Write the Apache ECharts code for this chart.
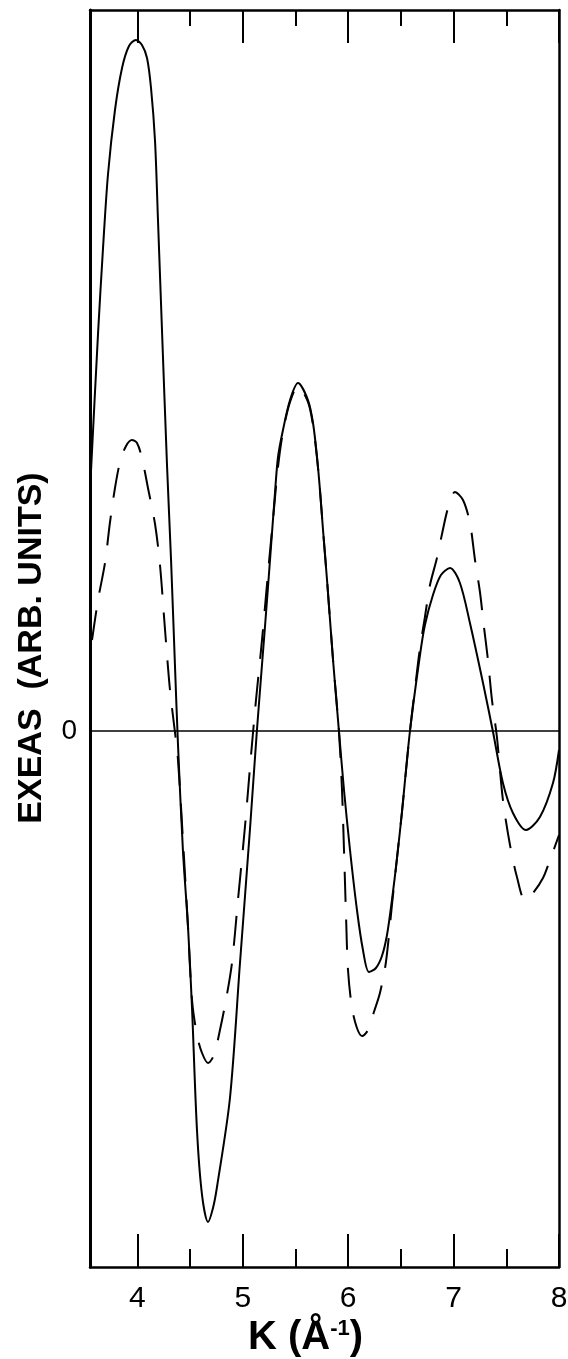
<!DOCTYPE html>
<html><head><meta charset="utf-8">
<script src="https://cdn.jsdelivr.net/npm/echarts@6/dist/echarts.min.js"></script>
<style>html,body{margin:0;padding:0;background:#fff}#c{width:568px;height:1359px}</style>
</head><body><div id="c"></div>
<script>
const kMin = 3.55, kMax = 8.0;
const yMin = -5.36, yMax = 7.21;
const majorTicks = [4, 5, 6, 7, 8];
const minorTicks = [4.5, 5.5, 6.5, 7.5];
const xTickLabels = ['4', '5', '6', '7', '8'];
const yTickValues = [0];
const yTickLabels = ['0'];
const xTitle = 'K (Å';
const xTitleSup = '-1';
const yTitle = 'EXEAS  (ARB. UNITS)';

const solidK = [3.55, 3.626, 3.673, 3.721, 3.787, 3.854, 3.920, 3.986, 4.043, 4.091, 4.129, 4.167, 4.195, 4.233, 4.281, 4.319, 4.356, 4.385, 4.432, 4.480, 4.518, 4.565, 4.613, 4.670, 4.717, 4.755, 4.878, 4.973, 5.068, 5.134, 5.210, 5.258, 5.305, 5.334, 5.381, 5.448, 5.523, 5.618, 5.666, 5.704, 5.732, 5.761, 5.799, 5.856, 5.912, 5.960, 6.017, 6.083, 6.140, 6.197, 6.263, 6.320, 6.368, 6.415, 6.463, 6.510, 6.586, 6.681, 6.728, 6.804, 6.880, 6.966, 7.060, 7.155, 7.279, 7.374, 7.468, 7.563, 7.687, 7.819, 7.943, 8.0];
const solidY = [2.40, 3.97, 4.82, 5.57, 6.21, 6.63, 6.85, 6.91, 6.86, 6.73, 6.43, 5.90, 5.11, 4.01, 2.65, 1.71, 0.66, -0.14, -1.20, -1.96, -2.77, -3.99, -4.64, -4.91, -4.77, -4.56, -3.67, -2.32, -0.98, 0.01, 1.04, 1.71, 2.38, 2.74, 3.01, 3.31, 3.48, 3.31, 3.08, 2.74, 2.41, 2.01, 1.51, 0.71, 0.00, -0.59, -1.19, -1.79, -2.19, -2.41, -2.37, -2.25, -2.04, -1.69, -1.27, -0.81, 0.00, 0.76, 1.06, 1.36, 1.56, 1.63, 1.48, 1.08, 0.48, -0.01, -0.52, -0.82, -0.99, -0.86, -0.52, -0.19];

const dashedK = [3.569, 3.626, 3.692, 3.740, 3.787, 3.835, 3.892, 3.948, 3.996, 4.043, 4.100, 4.167, 4.214, 4.262, 4.309, 4.356, 4.385, 4.432, 4.480, 4.518, 4.565, 4.613, 4.670, 4.726, 4.783, 4.840, 4.897, 4.954, 5.021, 5.078, 5.125, 5.182, 5.239, 5.286, 5.334, 5.381, 5.448, 5.523, 5.618, 5.666, 5.704, 5.732, 5.761, 5.799, 5.856, 5.912, 5.941, 5.960, 5.979, 5.998, 6.036, 6.083, 6.131, 6.188, 6.244, 6.301, 6.358, 6.415, 6.463, 6.510, 6.586, 6.643, 6.681, 6.728, 6.776, 6.842, 6.890, 6.947, 7.013, 7.089, 7.155, 7.203, 7.250, 7.288, 7.326, 7.364, 7.411, 7.468, 7.535, 7.601, 7.677, 7.753, 7.848, 7.914, 8.0];
const dashedY = [0.91, 1.31, 1.68, 2.09, 2.43, 2.69, 2.85, 2.91, 2.88, 2.73, 2.43, 2.07, 1.66, 1.01, 0.41, -0.01, -0.29, -1.09, -1.96, -2.69, -3.04, -3.22, -3.32, -3.24, -2.99, -2.69, -2.32, -1.69, -0.95, -0.24, 0.31, 0.91, 1.58, 2.11, 2.64, 2.99, 3.29, 3.45, 3.29, 3.06, 2.73, 2.41, 2.01, 1.51, 0.71, 0.00, -0.59, -1.19, -1.84, -2.39, -2.77, -2.97, -3.05, -2.99, -2.81, -2.62, -2.31, -1.74, -1.27, -0.81, 0.00, 0.51, 0.83, 1.14, 1.46, 1.73, 1.97, 2.23, 2.39, 2.31, 2.08, 1.71, 1.39, 1.04, 0.71, 0.31, -0.06, -0.69, -1.14, -1.46, -1.69, -1.62, -1.47, -1.29, -1.04];

const zip = (a, b) => a.map((v, i) => [v, b[i]]);
const FONT = '"Liberation Sans", Arial, sans-serif';

function xAxisDef(position, ticks, len, showLine, showLabel) {
  return {
    type: 'value', min: kMin, max: kMax, position: position,
    axisLine: { show: showLine, onZero: false, lineStyle: { color: '#000', width: 2.5 } },
    axisTick: { show: true, inside: true, length: len, customValues: ticks, lineStyle: { color: '#000', width: 2 } },
    axisLabel: showLabel ? {
      show: true, customValues: majorTicks, margin: 17, color: '#000', fontSize: 30, fontFamily: FONT,
      formatter: v => xTickLabels[majorTicks.indexOf(Math.round(v * 100) / 100)] ?? ''
    } : { show: false },
    splitLine: { show: false }
  };
}

const chart = echarts.init(document.getElementById('c'), null, { renderer: 'canvas' });
chart.setOption({
  backgroundColor: '#fff',
  animation: false,
  grid: { left: 90, right: 9, top: 10, bottom: 92, outerBoundsMode: 'none', containLabel: false },
  xAxis: [
    xAxisDef('bottom', majorTicks, 33, true, true),
    xAxisDef('bottom', minorTicks, 18, false, false),
    xAxisDef('top', majorTicks, 33, true, false),
    xAxisDef('top', minorTicks, 16, false, false)
  ],
  yAxis: [
    {
      type: 'value', min: yMin, max: yMax, position: 'left',
      axisLine: { show: true, onZero: false, lineStyle: { color: '#000', width: 3 } },
      axisTick: { show: false },
      axisLabel: { show: true, customValues: yTickValues, margin: 13, color: '#000', fontSize: 28, fontFamily: FONT,
        formatter: v => yTickLabels[yTickValues.indexOf(v)] ?? '' },
      splitLine: { show: false }
    },
    {
      type: 'value', min: yMin, max: yMax, position: 'right',
      axisLine: { show: true, onZero: false, lineStyle: { color: '#000', width: 2.5 } },
      axisTick: { show: false }, axisLabel: { show: false }, splitLine: { show: false }
    }
  ],
  series: [
    {
      type: 'line', name: 'solid', xAxisIndex: 0, yAxisIndex: 0,
      data: zip(solidK, solidY), showSymbol: false, smooth: 0.3,
      lineStyle: { color: '#000', width: 2 },
      markLine: {
        silent: true, symbol: ['none', 'none'], label: { show: false },
        lineStyle: { color: '#000', width: 1.5, type: 'solid' },
        data: [{ yAxis: 0 }]
      }
    },
    {
      type: 'line', name: 'dashed', xAxisIndex: 0, yAxisIndex: 0,
      data: zip(dashedK, dashedY), showSymbol: false, smooth: 0.3,
      lineStyle: { color: '#000', width: 2, type: [30, 18] }
    }
  ],
  graphic: [
    {
      type: 'text', x: 32, y: 648, rotation: Math.PI / 2,
      style: { text: yTitle, font: 'bold 34px ' + FONT, fill: '#000', textAlign: 'center', textVerticalAlign: 'middle' }
    },
    {
      type: 'text', x: 248, y: 1338,
      style: {
        text: '{a|' + xTitle + '}{s|' + xTitleSup + '}{a|)}',
        textVerticalAlign: 'middle', textAlign: 'left',
        rich: {
          a: { fontSize: 40, fontWeight: 'bold', fontFamily: FONT, fill: '#000' },
          s: { fontSize: 22, fontWeight: 'bold', fontFamily: FONT, fill: '#000', verticalAlign: 'top' }
        }
      }
    }
  ]
});
</script>
</body></html>
